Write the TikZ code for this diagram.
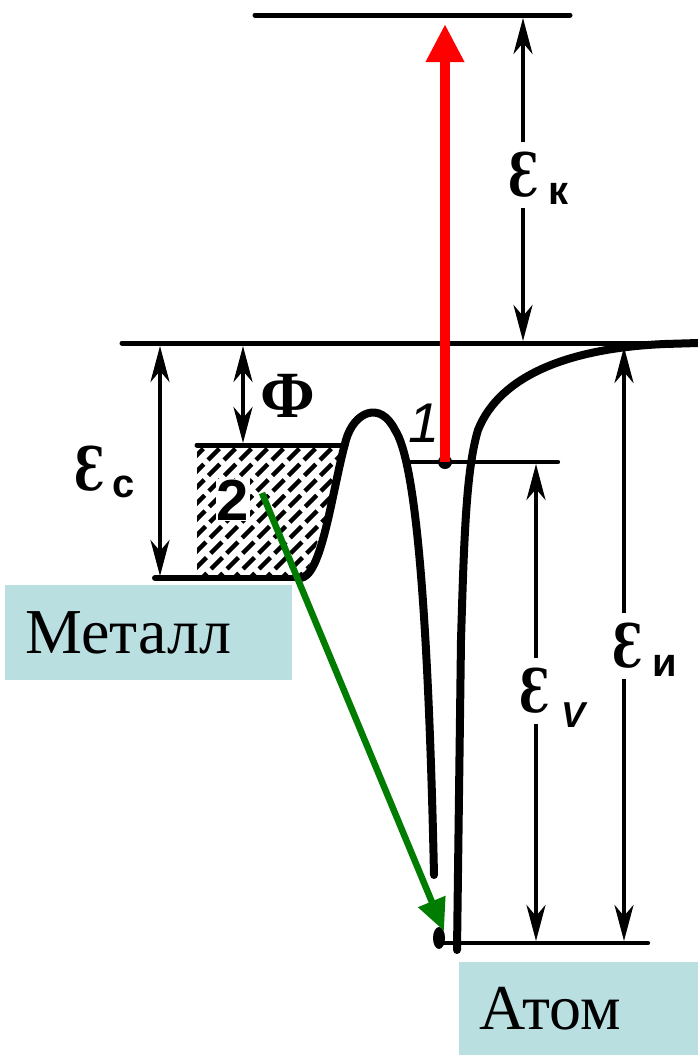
\documentclass[tikz,border=0pt]{standalone}
\usepackage{fontspec}
\setmainfont{Liberation Serif}
\newfontfamily\subsf{Liberation Sans}
\newfontfamily\phifont{Liberation Serif}
\newfontfamily\epsfont{DejaVu Serif}
\usetikzlibrary{arrows.meta}
\definecolor{boxc}{RGB}{185,223,225}
\definecolor{arrred}{RGB}{255,0,0}
\definecolor{arrgreen}{RGB}{0,125,0}
\newcommand\myeps{\scalebox{0.72}[1]{\epsfont\bfseries Ɛ}}
\begin{document}
\begin{tikzpicture}[x=1pt,y=-1pt,
  lvl/.style={line width=5pt, line cap=round},
  wall/.style={line width=8pt, line join=round, line cap=round},
  dim/.style={line width=3.8pt, {Stealth[length=36pt,width=19pt,inset=11pt]}-{Stealth[length=36pt,width=19pt,inset=11pt]}},
  lab/.style={font=\fontsize{60}{62}\selectfont, inner xsep=1pt, inner ysep=0pt},
  gaplab/.style={lab, fill=white, inner ysep=10pt},
  sub/.style={font=\subsf\bfseries\fontsize{40}{42}\selectfont, inner sep=0pt},
  hatch/.style={line width=4.5pt, dash pattern=on 16pt off 6pt},
  box/.style={fill=boxc, inner ysep=0pt, inner xsep=20pt, anchor=north west, align=left,
              font=\fontsize{64}{66}\selectfont}
]
\useasboundingbox (0,0) rectangle (698,1055);

% ---- energy levels
\coordinate (topL) at (255,15);   \coordinate (topR) at (570,15);
\coordinate (vacL) at (122,343);  \coordinate (vacR) at (698,343);
\coordinate (fermiL) at (197,445);\coordinate (fermiR) at (346,445);
\coordinate (lvlL) at (408,462);  \coordinate (lvlR) at (558,462);
\coordinate (botL) at (443,943);  \coordinate (botR) at (648,943);
\draw[lvl] (topL) -- (topR);
\draw[lvl] (vacL) -- (vacR);
\draw[lvl] (fermiL) -- (fermiR);
\draw[lvl, line width=4.2pt] (lvlL) -- (lvlR);
\draw[lvl, line width=4.2pt] (botL) -- (botR);

% ---- hatched filled band of the metal
\begin{scope}
  \clip (197,445) -- (345,445) -- (336,480) -- (322,530) -- (305,576) -- (197,578) -- cycle;
  \foreach \i in {20,36,...,380} {
    \draw[hatch] (\i,600) -- ++(180,-180);
  }
\end{scope}

% ---- potential curve: metal well, barrier, atomic well
\coordinate (mL) at (155,578);
\draw[wall, line width=6pt] (mL) -- (300,578);
\draw[wall] (300,578)
  .. controls (322,578) and (332,490) .. (346,440)
  .. controls (354,412) and (380,400) .. (395,430)
  .. controls (415,460) and (428,600) .. (434,875);
\draw[wall] (457,950) -- (461,640)
  .. controls (464,540) and (466,470) .. (478,430)
  .. controls (500,375) and (570,348) .. (665,344) -- (698,343);
\fill (439,938) ellipse [x radius=6pt, y radius=11pt];

% ---- labels 1 and 2
\node[font=\subsf\itshape\fontsize{56}{58}\selectfont, inner sep=0pt] (one) at (424,423) {1};
\node[font=\subsf\bfseries\fontsize{58}{60}\selectfont, fill=white, inner sep=1pt] (two) at (233,500) {2};

% ---- dimension arrows
\coordinate (k1) at (523,18);  \coordinate (k2) at (523,341);
\draw[dim] (k1) -- (k2);
\node[gaplab] (ek) at (524,175) {\myeps};
\node[sub] (ekk) at (559,194) {к};

\coordinate (c1) at (160,346); \coordinate (c2) at (160,576);
\draw[dim] (c1) -- (c2);
\node[lab] (ec) at (90,469) {\myeps};
\node[sub] (ecc) at (124,487) {с};

\coordinate (f1) at (243,346); \coordinate (f2) at (243,443);
\draw[dim] (f1) -- (f2);
\node[font=\phifont\bfseries\fontsize{66}{68}\selectfont, inner sep=0pt] (phi) at (288,396) {Φ};

\coordinate (v1) at (536,464); \coordinate (v2) at (536,941);
\draw[dim] (v1) -- (v2);
\node[gaplab] (ev) at (535,691) {\myeps};
\node[sub, font=\subsf\bfseries\itshape\fontsize{36}{38}\selectfont] (evv) at (573,715) {V};

\coordinate (i1) at (624,347); \coordinate (i2) at (624,941);
\draw[dim] (i1) -- (i2);
\node[gaplab] (ei) at (628,646) {\myeps};
\node[sub] (eii) at (665,666) {и};

% ---- transitions
\coordinate (redstart) at (445,462);
\coordinate (redend) at (445,24);
\fill (redstart) circle (7pt);
\draw[arrred, line width=10pt, -{Triangle[length=38pt,width=36pt]}] (redstart) -- (redend);

\coordinate (greenstart) at (262,493);
\coordinate (greenend) at (444,931);
\draw[arrgreen, line width=6.5pt, -{Triangle[length=32pt,width=28pt]}] (greenstart) -- (greenend);

% ---- captions
\node[box, minimum width=287pt, minimum height=95pt, text width=247pt] (metal) at (5,585) {Металл};
\node[box, minimum width=239pt, minimum height=93pt, text width=199pt] (atom) at (459,962) {Атом};
\end{tikzpicture}
\end{document}
